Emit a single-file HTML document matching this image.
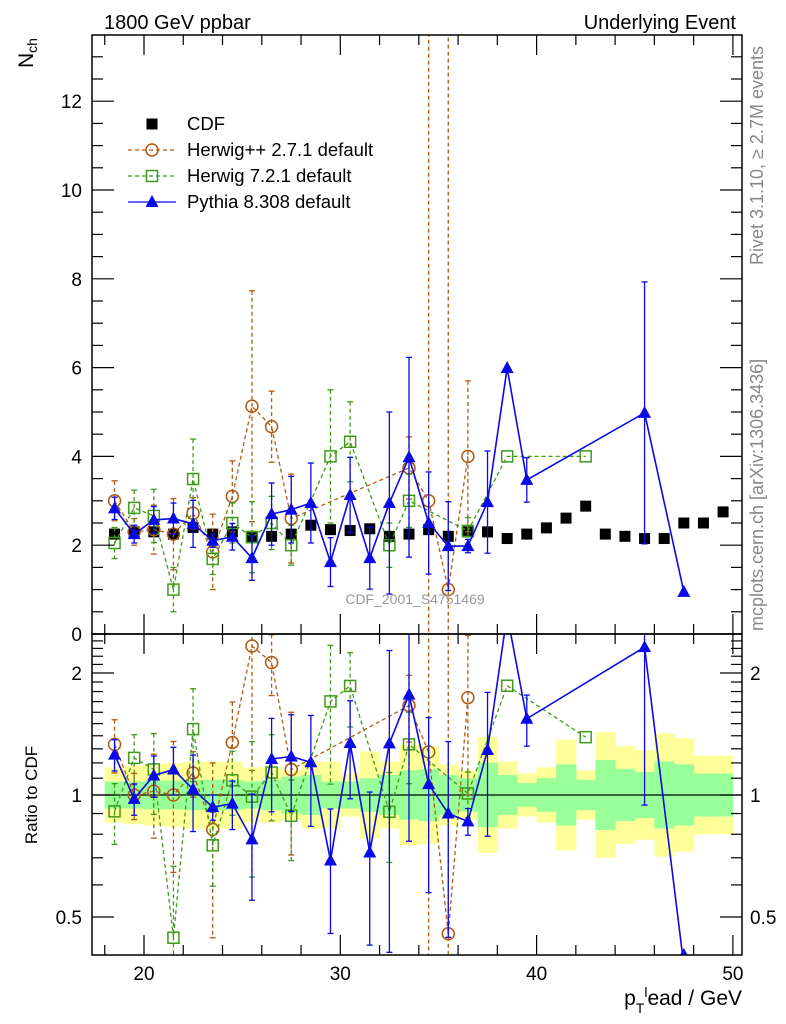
<!DOCTYPE html>
<html><head><meta charset="utf-8"><style>
html,body{margin:0;padding:0;background:#fff;width:786px;height:1024px;overflow:hidden;}
svg{display:block;font-family:"Liberation Sans",sans-serif;}
</style></head><body>
<svg id="chart" width="786" height="1024" viewBox="0 0 786 1024" xmlns="http://www.w3.org/2000/svg">
<defs>
<clipPath id="clipMain"><rect x="92" y="35" width="650" height="599"/></clipPath>
<clipPath id="clipRatio"><rect x="92" y="634" width="650" height="321"/></clipPath>
</defs>
<g id="bands" clip-path="url(#clipRatio)"></g>
<g id="marks"></g>
<g id="axes"></g>
<text x="104" y="29" font-size="20">1800 GeV ppbar</text>
<text x="736" y="29" font-size="20" text-anchor="end">Underlying Event</text>
<text transform="translate(33,68) rotate(-90)" font-size="21">N<tspan font-size="14" dy="4">ch</tspan></text>
<text transform="translate(37,795) rotate(-90)" font-size="17" text-anchor="middle">Ratio to CDF</text>
<text x="742" y="1005" font-size="21" text-anchor="end">p<tspan font-size="14" dy="8">T</tspan><tspan font-size="14" dy="-16">l</tspan><tspan dy="8">ead / GeV</tspan></text>
<text transform="translate(763,265) rotate(-90)" font-size="18" fill="#888">Rivet 3.1.10, ≥ 2.7M events</text>
<text transform="translate(763,631) rotate(-90)" font-size="18" fill="#888">mcplots.cern.ch [arXiv:1306.3436]</text>
<text x="415" y="604" font-size="14" fill="#999" text-anchor="middle">CDF_2001_S4751469</text>
<g id="legend"></g>
</svg>
<script>
const cdfX=[18.5,19.5,20.5,21.5,22.5,23.5,24.5,25.5,26.5,27.5,28.5,29.5,30.5,31.5,32.5,33.5,34.5,35.5,36.5,37.5,38.5,39.5,40.5,41.5,42.5,43.5,44.5,45.5,46.5,47.5,48.5,49.5];
const cdfY=[2.25,2.3,2.3,2.25,2.4,2.25,2.3,2.2,2.2,2.25,2.45,2.35,2.33,2.37,2.2,2.25,2.35,2.2,2.3,2.3,2.15,2.25,2.39,2.61,2.88,2.25,2.2,2.15,2.15,2.5,2.5,2.75];
const yellowBand=[1.17,1.18,1.19,1.2,1.21,1.21,1.21,1.17,1.17,1.15,1.21,1.21,1.13,1.28,1.21,1.33,1.32,1.19,1.15,1.39,1.21,1.13,1.17,1.37,1.15,1.43,1.32,1.29,1.42,1.38,1.25,1.25];
const greenBand=[1.08,1.08,1.085,1.085,1.09,1.09,1.09,1.08,1.09,1.11,1.12,1.08,1.08,1.1,1.12,1.15,1.16,1.12,1.1,1.2,1.12,1.07,1.1,1.19,1.09,1.22,1.16,1.14,1.21,1.19,1.13,1.13];
const hppX=[18.5,19.5,20.5,21.5,22.5,23.5,24.5,25.5,26.5,27.5,33.5,34.5,35.5,36.5];
const hppY=[3.0,2.3,2.35,2.25,2.72,1.85,3.1,5.13,4.67,2.6,3.74,3.0,1.0,4.0];
const hppE=[0.45,0.3,0.55,0.8,0.35,0.85,0.8,2.6,0.8,1.0,0.7,20,20,1.7];
const h7X=[18.5,19.5,20.5,21.5,22.5,23.5,24.5,25.5,26.5,27.5,29.5,30.5,32.5,33.5,36.5,38.5,42.5];
const h7Y=[2.05,2.84,2.66,1.0,3.49,1.69,2.5,2.18,2.5,2.0,4.0,4.33,2.0,3.0,2.32,4.0,4.0];
const h7E=[0.35,0.4,0.6,0.5,0.9,0.35,0.45,0.8,0.6,0.45,1.5,0.9,0.5,0.6,0.3,0,0];
const pyX=[18.5,19.5,20.5,21.5,22.5,23.5,24.5,25.5,26.5,27.5,28.5,29.5,30.5,31.5,32.5,33.5,34.5,35.5,36.5,37.5,38.5,39.5,45.5,47.5];
const pyY=[2.83,2.25,2.57,2.6,2.48,2.1,2.19,1.71,2.7,2.8,2.95,1.62,3.13,1.71,2.95,3.98,2.5,1.98,1.98,2.97,5.99,3.47,4.98,0.95];
const pyE=[0.25,0.2,0.3,0.35,0.53,0.15,0.3,0.5,0.7,0.75,0.9,0.55,0.85,0.7,2.05,2.25,1.15,1.0,0.15,1.15,0,0.5,2.95,0];
const xTicks=[20,30,40,50];
const yTicks=[0,2,4,6,8,10,12];
const rTicks=[0.5,1,2];

const NS="http://www.w3.org/2000/svg";
const L=92,R=742,T=35,B=634,RB=955;
const xs=v=>144+(v-20)*19.63;
const ys=v=>B-v*44.4;
const yr=v=>795-122*Math.log2(v);
function el(tag,attrs,parent){const e=document.createElementNS(NS,tag);for(const k in attrs)e.setAttribute(k,attrs[k]);parent.appendChild(e);return e;}
const marks=document.getElementById('marks'),axes=document.getElementById('axes'),bands=document.getElementById('bands');
function cdfAt(x){return cdfY[cdfX.indexOf(x)];}

cdfX.forEach((x,i)=>{
  let r=el('rect',{x:xs(x-0.5),y:yr(yellowBand[i]),width:19.63+0.5,height:yr(1/yellowBand[i])-yr(yellowBand[i]),fill:'#ffff99'},bands);
  
  
});
cdfX.forEach((x,i)=>{
  let r=el('rect',{x:xs(x-0.5),y:yr(greenBand[i]),width:19.63+0.5,height:yr(1/greenBand[i])-yr(greenBand[i]),fill:'#99ff99'},bands);
  
  
});
el('line',{x1:L,x2:R,y1:yr(1),y2:yr(1),stroke:'#000','stroke-width':1.2},bands);

function marker(g,type,cx,cy,color,name){
  let m;
  if(type==='sq') m=el('rect',{x:cx-5.5,y:cy-5.5,width:11,height:11,fill:'#000'},g);
  else if(type==='osq') m=el('rect',{x:cx-5.5,y:cy-5.5,width:11,height:11,fill:'none',stroke:color,'stroke-width':1.5},g);
  else if(type==='circ') m=el('circle',{cx:cx,cy:cy,r:6,fill:'none',stroke:color,'stroke-width':1.5},g);
  else m=el('path',{d:`M${cx},${cy-7}L${cx+6.5},${cy+5}L${cx-6.5},${cy+5}Z`,fill:color},g);
  
  
}
function series(X,Y,E,color,dash,type,name,ratio){
  const g=el('g',{'clip-path':ratio?'url(#clipRatio)':'url(#clipMain)'},marks);
  
  
  const yv=(i)=>ratio?Y[i]/cdfAt(X[i]):Y[i];
  const sc=ratio?yr:ys;
  const pts=X.map((x,i)=>xs(x)+','+sc(yv(i))).join(' ');
  const pl=el('polyline',{points:pts,fill:'none',stroke:color,'stroke-width':dash?1.3:1.6,'stroke-dasharray':dash||'none'},g);
  
  
  X.forEach((x,i)=>{
    if(E[i]>0){
      let lo,hi;
      if(ratio){const c=cdfAt(x);hi=(Y[i]+E[i])/c;lo=Math.max((Y[i]-E[i])/c,0.01);}
      else{hi=Y[i]+E[i];lo=Y[i]-E[i];}
      const cx=xs(x);
      const eb=el('line',{x1:cx,x2:cx,y1:sc(hi),y2:sc(lo),stroke:color,'stroke-width':1.3,'stroke-dasharray':dash||'none'},g);
      
      
      [hi,lo].forEach(v=>{const c=el('line',{x1:cx-3,x2:cx+3,y1:sc(v),y2:sc(v),stroke:color,'stroke-width':1.3},g);
        
        });
    }
    let py=sc(yv(i));
    if(ratio && py>RB) py=RB;
    marker(g,type,xs(x),py,color,name+'-point');
  });
}
const cg=el('g',{'clip-path':'url(#clipMain)'},marks);


cdfX.forEach((x,i)=>marker(cg,'sq',xs(x),ys(cdfY[i]),'#000','cdf-point'));
const HPP='#b35a12',H7='#3f9a1a',PY='#0a0ae6';
[false,true].forEach(r=>{
  series(hppX,hppY,hppE,HPP,'4,3','circ','herwigpp',r);
  series(h7X,h7Y,h7E,H7,'4,3','osq','herwig7',r);
  series(pyX,pyY,pyE,PY,null,'tri','pythia8',r);
});

[[T,B],[B,RB]].forEach(([a,b],k)=>{
  const f=el('rect',{x:L,y:a,width:R-L,height:b-a,fill:'none',stroke:'#000','stroke-width':1.5},axes);
  
  
});
function tick(x1,y1,x2,y2){const t=el('line',{x1,y1,x2,y2,stroke:'#000','stroke-width':1.2},axes);
  
  }
for(let v=18;v<=50;v++){
  const x=xs(v),maj=v%10===0,len=maj?20:(v%2===0?10:0);
  if(!len)continue;
  tick(x,T,x,T+len);tick(x,B,x,B-len);tick(x,B,x,B+len);tick(x,RB,x,RB-len);
}
xTicks.forEach(v=>{const t=el('text',{x:xs(v),y:980,'font-size':19,'text-anchor':'middle'},axes);t.textContent=v;
  
  });
for(let k=0;k<=27;k++){const v=k*0.5,y=ys(v);if(y<T)break;const len=k%4===0?22:11;tick(L,y,L+len,y);tick(R,y,R-len,y);}
yTicks.forEach(v=>{const t=el('text',{x:82,y:ys(v)+7,'font-size':19,'text-anchor':'end'},axes);t.textContent=v;
  
  });
for(let k=4;k<=25;k++){const v=k/10,y=yr(v);if(y<B||y>RB)continue;const len=(k===5||k===10||k===20)?22:11;tick(L,y,L+len,y);tick(R,y,R-len,y);}
rTicks.forEach(v=>{
  const t=el('text',{x:82,y:yr(v)+7,'font-size':19,'text-anchor':'end'},axes);t.textContent=v;
  
  
  const t2=el('text',{x:750,y:yr(v)+7,'font-size':19},axes);t2.textContent=v;
  
  
});
const lg=document.getElementById('legend');
const ent=[['CDF','sq','#000',null],['Herwig++ 2.7.1 default','circ',HPP,'4,3'],['Herwig 7.2.1 default','osq',H7,'4,3'],['Pythia 8.308 default','tri',PY,null]];
ent.forEach((e,i)=>{
  const y=124+i*26;
  const g=el('g',{},lg);
  
  
  if(i>0){const ln=el('line',{x1:128,x2:176,y1:y,y2:y,stroke:e[2],'stroke-width':1.3,'stroke-dasharray':e[3]||'none'},g);
    
    }
  marker(g,e[1],152,y,e[2],'legend-marker');
  const t=el('text',{x:187,y:y+6,'font-size':18.5},g);t.textContent=e[0];
  
  
});
</script>
</body></html>
